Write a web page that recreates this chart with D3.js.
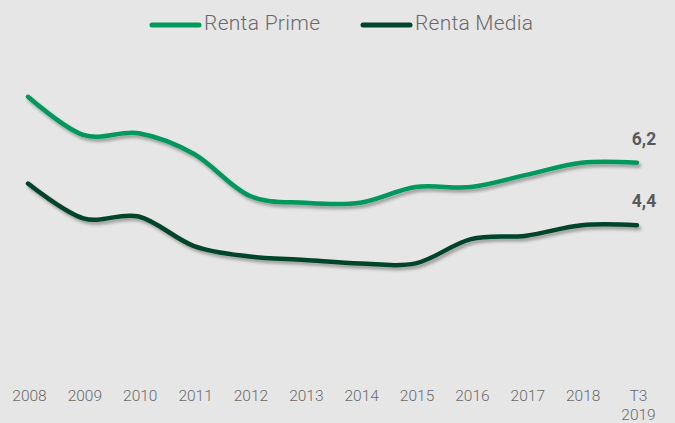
<!DOCTYPE html>
<html><head><meta charset="utf-8">
<script src="https://cdn.jsdelivr.net/npm/d3@7"></script>
<style>html,body{margin:0;padding:0;background:#e6e6e6;}svg{display:block;}</style>
</head><body>
<svg id="c" width="675" height="423"></svg>
<script>
const categories = ["2008","2009","2010","2011","2012","2013","2014","2015","2016","2017","2018","T3 2019"];
const rentaPrime = [8.1, 7.0, 7.05, 6.45, 5.25, 5.05, 5.05, 5.5, 5.5, 5.85, 6.2, 6.2];
const rentaMedia = [5.6, 4.6, 4.65, 3.8, 3.5, 3.4, 3.3, 3.3, 4.0, 4.1, 4.4, 4.4];
const seriesNames = ["Renta Prime", "Renta Media"];
const endLabels = ["6,2", "4,4"];

const colors = ["#00985b", "#00452c"];
const W = 675, H = 423;
const svg = d3.select("#c");
svg.append("rect").attr("width", W).attr("height", H).attr("fill", "#e6e6e6");

const defs = svg.append("defs");
const f = defs.append("filter").attr("id","sh").attr("x","-10%").attr("y","-30%").attr("width","120%").attr("height","160%");
f.append("feDropShadow").attr("dx",2).attr("dy",3).attr("stdDeviation",1.8).attr("flood-color","#000").attr("flood-opacity",0.3);

const x = d3.scalePoint().domain(categories).range([28, 637]);
const y = d3.scaleLinear().domain([0, 9]).range([378, 378 - 9 * 34.72]);

const line = d3.line()
  .x((d, i) => x(categories[i]))
  .y(d => y(d))
  .curve(d3.curveCardinal.tension(0));

[rentaPrime, rentaMedia].forEach((s, k) => {
  svg.append("path").datum(s)
    .attr("d", line)
    .attr("fill", "none")
    .attr("stroke", colors[k])
    .attr("stroke-width", 4.5)
    .attr("stroke-linecap", "round")
    .attr("filter", "url(#sh)");
  svg.append("text")
    .attr("x", x(categories[categories.length - 1]) + 7)
    .attr("y", y(s[s.length - 1]) - 18)
    .attr("text-anchor", "middle")
    .attr("font-family", "Roboto, sans-serif")
    .attr("font-weight", "bold")
    .attr("font-size", 17.5)
    .attr("fill", "#595959")
    .text(endLabels[k]);
});

// x axis labels
const xAxis = d3.axisBottom(x).tickSize(0).tickPadding(0);
const gx = svg.append("g").attr("transform", "translate(1,388)").call(xAxis);
gx.select(".domain").remove();
gx.selectAll(".tick text").each(function(d) {
  const t = d3.select(this).text(null)
    .attr("font-family", "Roboto, sans-serif")
    .attr("font-weight", 300)
    .attr("font-size", 15.5)
    .attr("fill", "#6a6a6a")
    .attr("dy", 0).attr("y", 0);
  const parts = d.split(" ");
  parts.forEach((p, i) => {
    t.append("tspan").attr("x", 0).attr("y", 13 + i * 19).text(p);
  });
});

// legend
const legendX = [152, 363];
const legendTextW = [116, 118];
seriesNames.forEach((n, k) => {
  const g = svg.append("g").attr("transform", `translate(${legendX[k]},25)`);
  g.append("line").attr("x1", 0).attr("x2", 47).attr("y1", 0).attr("y2", 0)
    .attr("stroke", colors[k]).attr("stroke-width", 5).attr("stroke-linecap", "round");
  g.append("text").attr("x", 52).attr("y", 5)
    .attr("font-family", "Roboto, sans-serif").attr("font-weight", 300)
    .attr("font-size", 21)
    .attr("textLength", legendTextW[k]).attr("lengthAdjust", "spacing")
    .attr("fill", "#6a6a6a").text(n);
});
</script>
</body></html>
